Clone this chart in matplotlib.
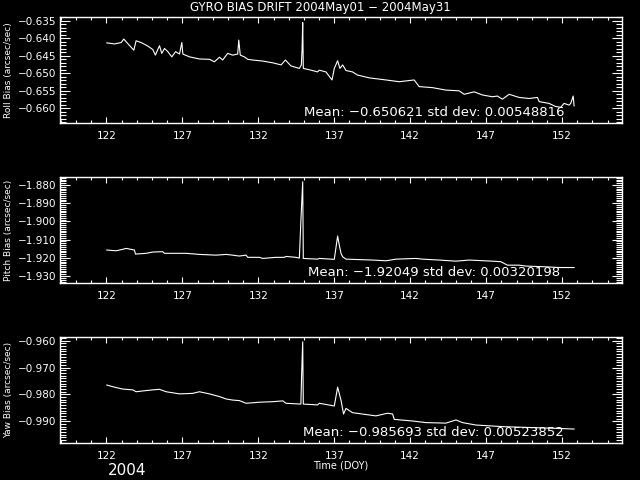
import matplotlib
matplotlib.use("Agg")
import matplotlib.pyplot as plt
from matplotlib.ticker import MultipleLocator, FuncFormatter

# day of year / bias values
roll_day = [122.02, 122.53, 122.97, 123.14, 123.36, 123.80, 123.95, 124.28, 124.72, 125.05,
            125.22, 125.49, 125.64, 125.82, 126.04, 126.30, 126.55, 126.81, 126.96, 127.03,
            127.47, 128.12, 128.78, 129.11, 129.44, 129.65, 129.98, 130.31, 130.64, 130.71,
            130.81, 131.08, 131.30, 131.63, 132.29, 132.95, 133.50, 133.78, 134.15, 134.70,
            134.83, 134.88, 134.92, 134.96, 135.47, 135.90, 136.01, 136.45, 136.85, 137.00,
            137.22, 137.37, 137.55, 137.77, 138.20, 138.53, 139.30, 140.40, 141.28, 142.26,
            142.59, 143.47, 144.35, 145.22, 145.55, 146.21, 146.76, 147.41, 147.74, 148.07,
            148.51, 149.17, 149.83, 150.38, 150.49, 151.14, 151.58, 151.91, 152.13, 152.46,
            152.57, 152.73, 152.79]
roll_val = [-0.6413, -0.6416, -0.6412, -0.6402, -0.6413, -0.6434, -0.6407, -0.6412, -0.6422, -0.6432,
            -0.6448, -0.6421, -0.6443, -0.6429, -0.6438, -0.6453, -0.6438, -0.6445, -0.6412, -0.6445,
            -0.6453, -0.6459, -0.6460, -0.6467, -0.6454, -0.6462, -0.6443, -0.6448, -0.6445, -0.6405,
            -0.6448, -0.6453, -0.6460, -0.6462, -0.6465, -0.6470, -0.6476, -0.6462, -0.6479, -0.6486,
            -0.6476, -0.6430, -0.6355, -0.6486, -0.6491, -0.6496, -0.6491, -0.6496, -0.6519, -0.6486,
            -0.6464, -0.6486, -0.6476, -0.6492, -0.6496, -0.6505, -0.6513, -0.6519, -0.6524, -0.6519,
            -0.6538, -0.6541, -0.6548, -0.6550, -0.6560, -0.6553, -0.6562, -0.6567, -0.6565, -0.6574,
            -0.6560, -0.6569, -0.6572, -0.6569, -0.6581, -0.6586, -0.6595, -0.6597, -0.6586, -0.6591,
            -0.6586, -0.6565, -0.6593]

pitch_day = [122.02, 122.64, 123.07, 123.30, 123.84, 123.91, 124.61, 125.05, 125.70, 125.82,
             127.24, 128.12, 129.22, 129.88, 130.31, 130.75, 131.19, 131.30, 132.07, 132.29,
             133.16, 133.72, 133.82, 134.47, 134.70, 134.80, 134.92, 134.96, 135.90, 136.01,
             137.00, 137.22, 137.33, 137.44, 137.55, 137.77, 139.52, 140.40, 141.06, 142.38,
             142.81, 143.91, 145.01, 145.88, 147.41, 147.97, 148.40, 149.17, 149.61, 150.92,
             151.80, 152.24, 152.79]
pitch_val = [-1.9157, -1.9161, -1.9153, -1.9148, -1.9157, -1.9179, -1.9175, -1.9168, -1.9166, -1.9175,
             -1.9175, -1.9181, -1.9185, -1.9181, -1.9185, -1.9190, -1.9185, -1.9197, -1.9197, -1.9203,
             -1.9197, -1.9197, -1.9192, -1.9197, -1.9201, -1.8998, -1.8782, -1.9203, -1.9207, -1.9203,
             -1.9208, -1.9080, -1.9130, -1.9175, -1.9194, -1.9207, -1.9212, -1.9216, -1.9207, -1.9203,
             -1.9207, -1.9212, -1.9218, -1.9212, -1.9218, -1.9221, -1.9240, -1.9240, -1.9245, -1.9249,
             -1.9253, -1.9253, -1.9253]

yaw_day = [122.02, 122.53, 123.07, 123.73, 123.95, 124.39, 125.05, 125.49, 125.93, 126.81,
           127.68, 128.12, 128.78, 129.44, 129.88, 130.31, 130.75, 131.19, 132.07, 132.95,
           133.61, 133.82, 134.80, 134.85, 134.92, 134.96, 135.90, 136.01, 137.00, 137.22,
           137.44, 137.61, 137.77, 138.20, 139.74, 140.51, 140.84, 140.95, 142.15, 143.03,
           144.35, 145.01, 145.44, 146.32, 148.07, 150.26, 151.36, 152.79]
yaw_val = [-0.9765, -0.9773, -0.9780, -0.9783, -0.9790, -0.9787, -0.9783, -0.9781, -0.9790, -0.9798,
           -0.9796, -0.9790, -0.9798, -0.9808, -0.9817, -0.9821, -0.9823, -0.9833, -0.9829, -0.9827,
           -0.9824, -0.9833, -0.9836, -0.9724, -0.9604, -0.9836, -0.9839, -0.9833, -0.9843, -0.9773,
           -0.9821, -0.9873, -0.9852, -0.9868, -0.9880, -0.9870, -0.9873, -0.9893, -0.9899, -0.9905,
           -0.9907, -0.9895, -0.9905, -0.9914, -0.9920, -0.9924, -0.9926, -0.9929]

panels = [
    (roll_day, roll_val, 'Roll Bias (arcsec/sec)', (-0.6642, -0.6339), 0.005, 0.001, '%.3f',
     'Mean: \u22120.650621 std dev: 0.00548816'),
    (pitch_day, pitch_val, 'Pitch Bias (arcsec/sec)', (-1.9338, -1.8756), 0.010, 0.001, '%.3f',
     'Mean: \u22121.92049 std dev: 0.00320198'),
    (yaw_day, yaw_val, 'Yaw Bias (arcsec/sec)', (-0.9981, -0.9586), 0.010, 0.001, '%.3f',
     'Mean: \u22120.985693 std dev: 0.00523852'),
]

fig = plt.figure(figsize=(6.4, 4.8), dpi=100, facecolor='black')
bottoms = [0.7438, 0.4104, 0.0771]

for (days, vals, ylab, ylim, major, minor, fmt, stats), b in zip(panels, bottoms):
    ax = fig.add_axes([0.094, b, 0.878, 0.2208], facecolor='black')
    ax.plot(days, vals, color='white', lw=0.8)
    ax.set_xlim(118.95, 155.95)
    ax.set_ylim(*ylim)
    ax.xaxis.set_minor_locator(MultipleLocator(1))
    ax.set_xticks(range(122, 153, 5))
    ax.yaxis.set_major_locator(MultipleLocator(major))
    ax.yaxis.set_minor_locator(MultipleLocator(minor))
    ax.yaxis.set_major_formatter(FuncFormatter(lambda v, p, f=fmt: (f % v).replace('-', '\u2212')))
    for s in ax.spines.values():
        s.set_color('white')
        s.set_linewidth(1)
    ax.tick_params(axis='both', which='both', direction='in', colors='white',
                   top=True, right=True, labelsize=7.5, width=0.8)
    ax.tick_params(axis='x', which='major', length=4, pad=6)
    ax.tick_params(axis='x', which='minor', length=2.5)
    ax.tick_params(axis='y', which='major', length=7, pad=3)
    ax.tick_params(axis='y', which='minor', length=4)
    ax.set_ylabel(ylab, color='white', fontsize=6.5, labelpad=3)
    ax.text(0.665, 0.1, stats, transform=ax.transAxes, ha='center', va='center',
            color='white', fontsize=9.5)

fig.text(0.5, 0.984, 'GYRO BIAS DRIFT 2004May01 \u2212 2004May31', ha='center', va='center',
         color='white', fontsize=8.5)
fig.text(0.532, 0.031, 'Time (DOY)', ha='center', va='center', color='white', fontsize=7)
fig.text(0.198, 0.005, '2004', ha='center', va='bottom', color='white', fontsize=11)

fig.savefig('out.png', dpi=100, facecolor='black')
